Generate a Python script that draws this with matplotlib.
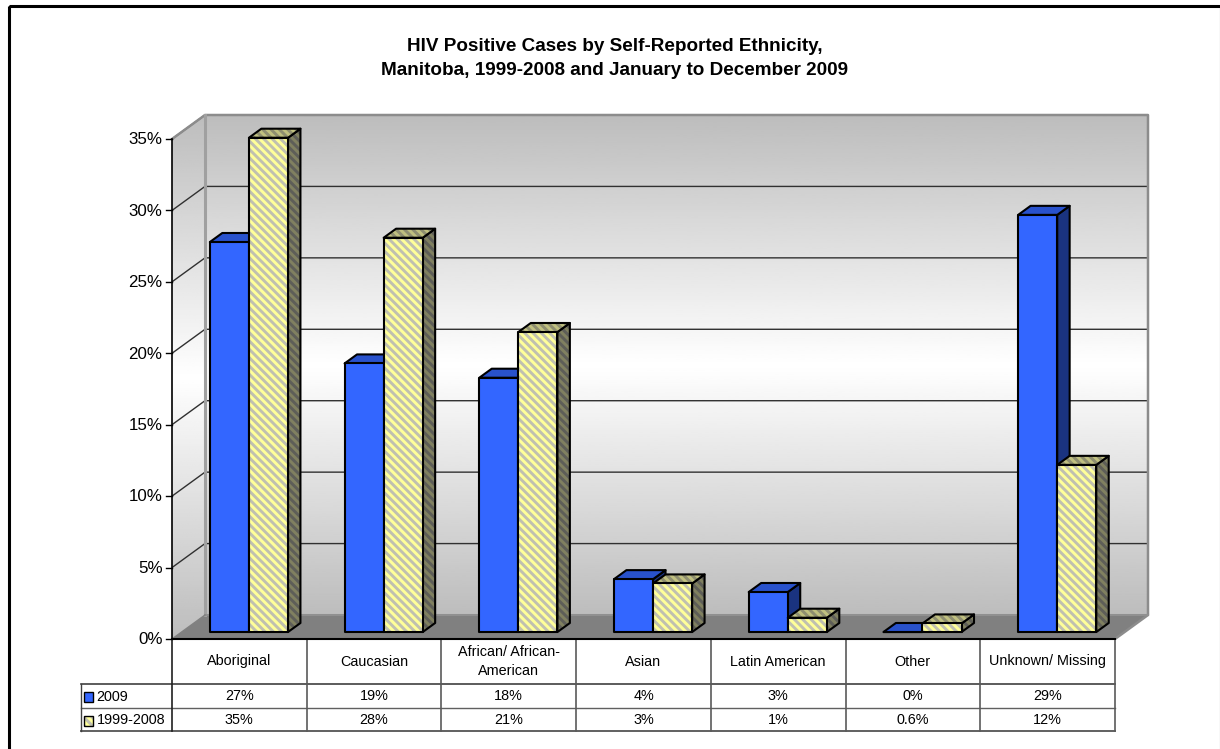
import matplotlib
matplotlib.use('Agg')
import matplotlib.pyplot as plt
import numpy as np
from matplotlib.patches import Polygon, Rectangle

categories = ['Aboriginal', 'Caucasian', 'African/ African-\nAmerican', 'Asian',
              'Latin American', 'Other', 'Unknown/ Missing']
series_names = ['2009', '1999-2008']
values_2009 = [27.3, 18.8, 17.8, 3.7, 2.8, 0.0, 29.2]
values_1999_2008 = [34.6, 27.6, 21.0, 3.4, 1.0, 0.6, 11.7]
y_ticks = [0, 5, 10, 15, 20, 25, 30, 35]
title_lines = 'HIV Positive Cases by Self-Reported Ethnicity,\nManitoba, 1999-2008 and January to December 2009'

plt.rcParams['font.family'] = ['Liberation Sans', 'DejaVu Sans']
plt.rcParams['hatch.linewidth'] = 2.1

W, H = 1220, 749
LEFT, RIGHT, BASE, TOP = 172, 1115, 639, 139
DX = 33 / ((RIGHT - LEFT) / 7)     # wall offset in category widths
DY = 24 / ((BASE - TOP) / 35)      # wall offset in percent
BAR_W = 0.29
Z0, Z1 = 0.29, 0.667               # front and back of the bars
STRIPES = '\\' * 4
TABLE_FONT = 10.4


def proj(x, y, z):
    return x + z * DX, y + z * DY


def fmt(v):
    return f'{v:.1f}%' if 0 < v < 1 else f'{v:.0f}%'


def box(ax, x0, x1, v, z, face, side, top, stripes=None):
    # front, side and top faces of one bar
    front = [proj(x0, 0, Z0), proj(x1, 0, Z0), proj(x1, v, Z0), proj(x0, v, Z0)]
    right = [proj(x1, 0, Z0), proj(x1, 0, Z1), proj(x1, v, Z1), proj(x1, v, Z0)]
    lid = [proj(x0, v, Z0), proj(x1, v, Z0), proj(x1, v, Z1), proj(x0, v, Z1)]
    for pts, col, st in ((right, side, stripes and stripes[1]),
                         (lid, top, stripes and stripes[2]),
                         (front, face, stripes and stripes[0])):
        if st:
            ax.add_patch(Polygon(pts, closed=True, facecolor=col, edgecolor=st,
                                 hatch=STRIPES, lw=0, clip_on=False, zorder=z))
        else:
            ax.add_patch(Polygon(pts, closed=True, facecolor=col, lw=0, clip_on=False, zorder=z))
        ax.add_patch(Polygon(pts, closed=True, fill=False, edgecolor='black', lw=1.5,
                             joinstyle='round', clip_on=False, zorder=z))


fig = plt.figure(figsize=(W / 100, H / 100), dpi=100)

# pixel-sized overlay for frame, title and data table
page = fig.add_axes([0, 0, 1, 1], zorder=0)
page.set_xlim(0, W)
page.set_ylim(H, 0)
page.axis('off')
page.add_patch(Rectangle((8.5, 6), 1212, 760, fill=False, edgecolor='black', lw=2.2))
page.text(615, 58.5, title_lines, ha='center', va='center', fontsize=13.6, fontweight='bold',
          linespacing=1.56)

ax = fig.add_axes([LEFT / W, 1 - BASE / H, (RIGHT - LEFT) / W, (BASE - TOP) / H], zorder=1)
n = len(categories)

# back wall and side wall with a grey-white-grey gradient
grad = np.interp(np.linspace(0, 1, 256), [0, 0.5, 1], [0.74, 1.0, 0.74])[:, None]
wall_x0, wall_y0 = proj(0, 0, 1)
wall_x1, wall_y1 = proj(n, 35, 1)
back = ax.imshow(grad, cmap='gray', vmin=0, vmax=1, aspect='auto', origin='upper',
                 extent=(wall_x0, wall_x1, wall_y0, wall_y1), zorder=1)
back.set_clip_on(False)
side = ax.imshow(grad, cmap='gray', vmin=0, vmax=1, aspect='auto', origin='upper',
                 extent=(0, wall_x0, 0, wall_y1), zorder=1)
side_poly = Polygon([proj(0, 0, 0), proj(0, 0, 1), proj(0, 35, 1), proj(0, 35, 0)],
                    closed=True, transform=ax.transData)
side.set_clip_path(side_poly)
side.set_clip_box(fig.bbox)
ax.set_xlim(0, n)
ax.set_ylim(0, 35)
ax.axis('off')

# floor
ax.add_patch(Polygon([proj(0, 0, 0), proj(n, 0, 0), proj(n, 0, 1), proj(0, 0, 1)],
                     closed=True, facecolor='#808080', lw=0, clip_on=False, zorder=2))

# gridlines along side and back walls
for t in y_ticks[1:]:
    xs, ys = zip(proj(0, t, 0), proj(0, t, 1), proj(n, t, 1))
    ax.plot(xs, ys, color='#303030', lw=1, clip_on=False, zorder=2, solid_capstyle='butt')

# wall edges
wall_edge = [proj(0, 35, 0), proj(0, 35, 1), proj(n, 35, 1), proj(n, 0, 1), proj(n, 0, 0)]
ax.plot(*zip(*wall_edge), color='#8C8C8C', lw=1.8, clip_on=False, zorder=3)
ax.plot(*zip(proj(0, 35, 1), proj(0, 0, 1)), color='#A0A0A0', lw=2.2, clip_on=False, zorder=3)
ax.plot(*zip(proj(0, 0, 1), proj(n, 0, 1)), color='#909090', lw=1.5, clip_on=False, zorder=3)
ax.plot(*zip(proj(0, 0, 0), proj(0, 0, 1)), color='#808080', lw=1, clip_on=False, zorder=3)

# value axis with ticks
ax.plot([0, 0], [0, 35], color='black', lw=1.2, clip_on=False, zorder=3)
ax.plot([0, n], [0, 0], color='black', lw=1.5, clip_on=False, zorder=3)
for t in y_ticks:
    ax.plot([-0.045, 0], [t, t], color='black', lw=1, clip_on=False, zorder=3)
    ax.text(-0.07, t - 0.05, f'{t}%', ha='right', va='center', fontsize=12.2, zorder=3)

# bars, painted left to right so each one covers its neighbour's side face
for i in range(n):
    x0 = i + 0.5 - BAR_W
    box(ax, x0, x0 + BAR_W, values_2009[i], 4 + i * 2, '#3366FF', '#1A3380', '#2952CC')
    box(ax, x0 + BAR_W, x0 + 2 * BAR_W, values_1999_2008[i], 5 + i * 2, '#FFFF99', '#808060', '#C0C080',
        stripes=('#C0C0B0', '#5E5E58', '#8E8E70'))

# data table under the plot
col_w = (RIGHT - LEFT) / n
row_y = [BASE, 683.5, 707.5, 731]
TABLE_X0 = 80.5
page.plot([TABLE_X0, RIGHT], [row_y[1]] * 2, color='#404040', lw=1.2)
page.plot([TABLE_X0, RIGHT], [row_y[2]] * 2, color='#606060', lw=1)
page.plot([TABLE_X0, RIGHT], [row_y[3]] * 2, color='#606060', lw=1.4)
page.plot([TABLE_X0, TABLE_X0], [row_y[1], row_y[3]], color='#404040', lw=1)
for i in range(n + 1):
    col = '#202020' if i == 0 else '#5A5A5A'
    page.plot([LEFT + i * col_w] * 2, [BASE, row_y[3]], color=col, lw=1.2)

for i, name in enumerate(categories):
    cx = LEFT + (i + 0.5) * col_w
    page.text(cx, 661.5, name, ha='center', va='center', fontsize=TABLE_FONT, linespacing=1.4)
    page.text(cx, 696, fmt(values_2009[i]), ha='center', va='center', fontsize=TABLE_FONT)
    page.text(cx, 719.5, fmt(values_1999_2008[i]), ha='center', va='center', fontsize=TABLE_FONT)

# legend keys live in the table's first column
page.add_patch(Rectangle((84, 692), 9, 9.5, facecolor='#3366FF', edgecolor='black', lw=1))
page.add_patch(Rectangle((84, 716), 9, 9.5, facecolor='#FFFF99', edgecolor='#C0C0B0', hatch=STRIPES, lw=0))
page.add_patch(Rectangle((84, 716), 9, 9.5, fill=False, edgecolor='black', lw=1))
page.text(96.5, 697, series_names[0], ha='left', va='center', fontsize=TABLE_FONT)
page.text(96.5, 720.5, series_names[1], ha='left', va='center', fontsize=TABLE_FONT)

fig.savefig('out.png', dpi=100)
